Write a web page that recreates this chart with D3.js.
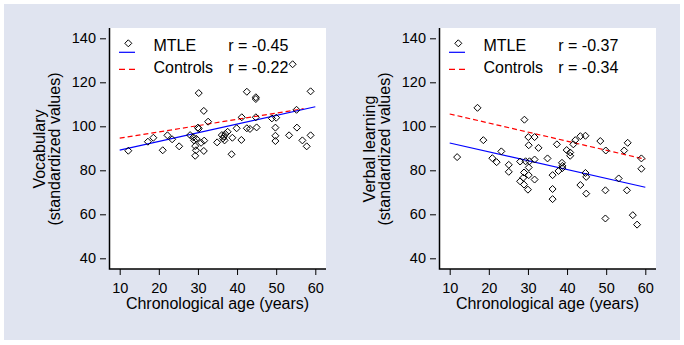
<!DOCTYPE html>
<html>
<head>
<meta charset="utf-8">
<script src="https://cdn.jsdelivr.net/npm/d3@7"></script>
<style>
    body { margin: 0; background: #ffffff; }
    svg text { font-family: "Liberation Sans", Arial, sans-serif; fill: #000; }
</style>
</head>
<body>
<svg id="chart" width="684" height="345"></svg>
<script>
// tick values shared by both panels
const ageTicks = [10, 20, 30, 40, 50, 60];
const scoreTicks = [40, 60, 80, 100, 120, 140];
const legendLabels = ["MTLE", "Controls"];
const xTitle = "Chronological age (years)";

// left panel: vocabulary (MTLE patients)
const vocabAge = [12.2, 17.2, 18.6, 21.0, 22.2, 23.4, 25.2, 28.0, 28.8, 29.0, 29.3, 29.5, 29.3,
    29.6, 30.0, 30.2, 30.2, 30.8, 31.5, 31.6, 31.5, 32.6, 34.9, 36.1, 36.4, 36.6, 36.8, 37.0,
    37.6, 38.6, 38.8, 39.9, 41.1, 41.2, 42.5, 42.5, 43.3, 44.8, 44.8, 44.8, 45.0, 48.9, 50.0,
    49.8, 49.8, 49.8, 53.3, 54.2, 55.2, 55.3, 56.7, 57.8, 58.8, 58.8];
const vocabScore = [88.9, 93.0, 94.8, 89.1, 95.9, 94.1, 90.9, 96.0, 95.0, 93.6, 91.0, 89.1, 86.6,
    94.3, 99.4, 98.9, 115.1, 92.5, 107.0, 93.5, 88.8, 102.1, 92.7, 96.0, 94.5, 95.3, 93.6, 96.5,
    97.5, 87.3, 94.8, 99.1, 93.8, 104.1, 115.7, 99.1, 98.8, 112.4, 113.2, 104.1, 99.5, 103.6, 103.9,
    99.4, 95.7, 93.3, 95.9, 128.2, 107.5, 99.4, 93.6, 90.9, 95.9, 115.9];
const vocabFitAge = [10, 60];
const vocabFitMtle = [89.2, 108.9];
const vocabFitCtrlAge = [10, 57];
const vocabFitCtrl = [94.6, 108.0];
const vocabR = ["r = -0.45", "r = -0.22"];

// right panel: verbal learning
const verbalAge = [11.9, 17.1, 18.6, 20.9, 22.0, 23.2, 25.1, 25.1, 28.0, 28.0, 28.8, 29.0, 29.0,
    29.1, 29.4, 30.0, 30.1, 30.2, 30.2, 30.2, 30.4, 31.7, 31.7, 31.7, 32.7, 35.0, 36.3, 36.3,
    36.3, 37.4, 37.8, 38.7, 38.8, 38.8, 39.9, 40.8, 40.8, 41.6, 42.1, 43.4, 43.4, 44.7, 44.7,
    44.9, 44.9, 48.5, 49.8, 49.8, 49.9, 53.2, 54.6, 55.3, 55.5, 56.8, 57.9, 59.0, 59.0];
const verbalScore = [86.0, 108.4, 93.7, 85.5, 83.7, 88.6, 82.5, 79.3, 84.0, 75.0, 76.6, 79.0, 73.5,
    103.0, 84.1, 71.2, 95.1, 91.4, 81.3, 77.8, 84.1, 95.1, 84.9, 75.8, 90.2, 85.4, 77.8, 71.5,
    66.9, 91.8, 79.7, 83.4, 82.0, 81.0, 89.2, 88.1, 86.6, 91.8, 93.7, 95.5, 73.3, 95.7, 78.8,
    77.0, 69.4, 93.3, 70.9, 58.1, 89.0, 76.3, 89.0, 70.9, 92.5, 59.6, 55.3, 85.4, 80.7];
const verbalFitAge = [10, 60];
const verbalFitMtle = [92.4, 72.3];
const verbalFitCtrlAge = [10, 60];
const verbalFitCtrl = [105.6, 85.0];
const verbalR = ["r = -0.37", "r = -0.34"];

const svg = d3.select("#chart");

// outer background
svg.append("rect").attr("x", 4).attr("y", 4).attr("width", 676).attr("height", 336)
    .attr("fill", "#e0e4f0");

const diamond = "M0,-3.5L3.5,0L0,3.5L-3.5,0Z";

function drawPanel(offset, cfg) {
    const g = svg.append("g").attr("transform", `translate(${offset},0)`);
    const x = d3.scaleLinear().domain([10, 60]).range([119.7, 315.3]);
    const y = d3.scaleLinear().domain([40, 140]).range([258.3, 38.3]);
    const left = 109.5, right = 326, top = 28, bottom = 269;

    g.append("rect").attr("x", left).attr("y", top)
        .attr("width", right - left).attr("height", bottom - top)
        .attr("fill", "#fff");
    g.append("path")
        .attr("d", `M${left},${top}V${bottom}H${right}`)
        .attr("fill", "none").attr("stroke", "#000").attr("stroke-width", 1.5);

    const yAxis = g.append("g").attr("transform", "translate(106,0)")
        .call(d3.axisLeft(y).tickValues(scoreTicks).tickSize(6).tickPadding(4));
    const xAxis = g.append("g").attr("transform", `translate(0,${bottom})`)
        .call(d3.axisBottom(x).tickValues(ageTicks).tickSize(6).tickPadding(8));
    [xAxis, yAxis].forEach(a => {
        a.select(".domain").remove();
        a.selectAll("line").attr("stroke", "#000");
        a.selectAll("text").attr("font-size", 14.5)
            .attr("font-family", '"Liberation Sans", Arial, sans-serif');
    });

    // fit lines
    const line = d3.line().x(d => x(d[0])).y(d => y(d[1]));
    g.append("path")
        .attr("d", line(d3.zip(cfg.fitCtrlAge, cfg.fitCtrl)))
        .attr("fill", "none").attr("stroke", "#ff0000").attr("stroke-width", 1.2)
        .attr("stroke-dasharray", "5,3");
    g.append("path")
        .attr("d", line(d3.zip(cfg.fitAge, cfg.fitMtle)))
        .attr("fill", "none").attr("stroke", "#0000ff").attr("stroke-width", 1.2);

    // patients
    g.selectAll(".pt").data(d3.zip(cfg.age, cfg.score)).enter()
        .append("path").attr("class", "pt")
        .attr("transform", d => `translate(${x(d[0])},${y(d[1])})`)
        .attr("d", diamond)
        .attr("fill", "none").attr("stroke", "#000").attr("stroke-width", 1);

    // legend
    g.append("path").attr("transform", "translate(128.3,43.3)").attr("d", diamond)
        .attr("fill", "none").attr("stroke", "#000");
    g.append("line").attr("x1", 119).attr("x2", 135).attr("y1", 52.3).attr("y2", 52.3)
        .attr("stroke", "#0000ff").attr("stroke-width", 1.2);
    g.append("line").attr("x1", 119).attr("x2", 135).attr("y1", 69.3).attr("y2", 69.3)
        .attr("stroke", "#ff0000").attr("stroke-width", 1.2).attr("stroke-dasharray", "6,4");
    const rows = [50.7, 73.3];
    legendLabels.forEach((lab, i) => {
        g.append("text").attr("x", 153.5).attr("y", rows[i]).attr("font-size", 16).text(lab);
        g.append("text").attr("x", 228.3).attr("y", rows[i]).attr("font-size", 16).text(cfg.r[i]);
    });

    // axis titles
    g.append("text").attr("x", 217.5).attr("y", 309).attr("text-anchor", "middle")
        .attr("font-size", 16).text(xTitle);
    cfg.yTitle.forEach((t, i) => {
        g.append("text").attr("transform", `translate(${44.5 + i * 15.5},149) rotate(-90)`)
            .attr("text-anchor", "middle").attr("font-size", 16).text(t);
    });
}

drawPanel(0, {
    age: vocabAge, score: vocabScore,
    fitAge: vocabFitAge, fitMtle: vocabFitMtle,
    fitCtrlAge: vocabFitCtrlAge, fitCtrl: vocabFitCtrl,
    r: vocabR, yTitle: ["Vocabulary", "(standardized values)"]
});
drawPanel(330, {
    age: verbalAge, score: verbalScore,
    fitAge: verbalFitAge, fitMtle: verbalFitMtle,
    fitCtrlAge: verbalFitCtrlAge, fitCtrl: verbalFitCtrl,
    r: verbalR, yTitle: ["Verbal learning", "(standardized values)"]
});
</script>
</body>
</html>
